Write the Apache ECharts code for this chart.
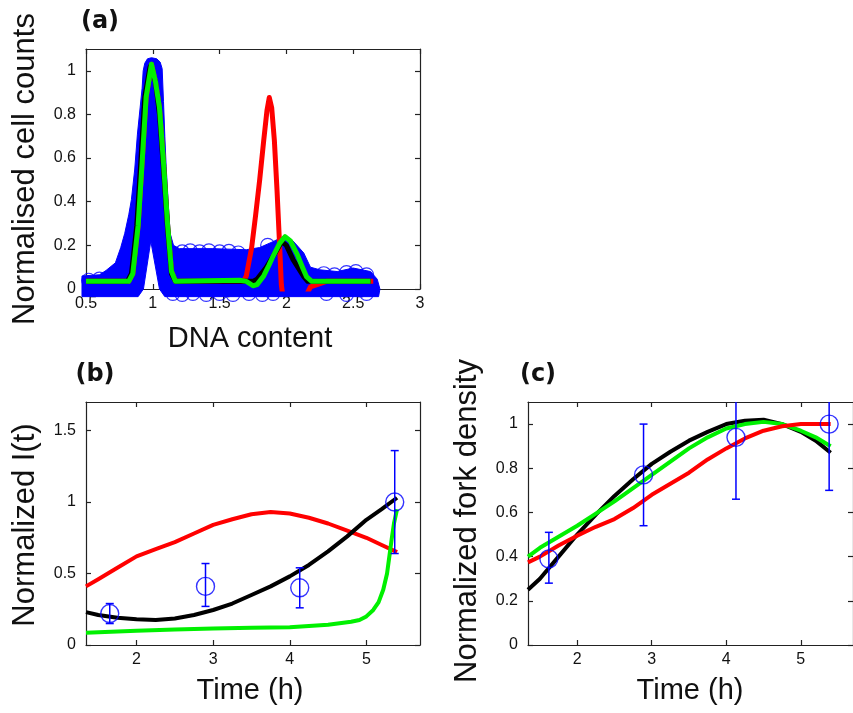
<!DOCTYPE html>
<html><head><meta charset="utf-8">
<script src="https://cdn.jsdelivr.net/npm/echarts@6/dist/echarts.min.js"></script>
<style>html,body{margin:0;padding:0;background:#fff}#c{width:853px;height:713px}</style>
</head><body><div id="c"></div><script>
// ---------- Panel (a): DNA content histograms ----------
var aXTicks = [0.5, 1, 1.5, 2, 2.5, 3];
var aYTicks = [0, 0.2, 0.4, 0.6, 0.8, 1];
// outline of the dense blue data cloud (upper edge, then lower edge)
var blobTop = [[0.47,0.06],[0.6,0.065],[0.65,0.085],[0.72,0.12],[0.76,0.19],[0.79,0.255],[0.82,0.34],[0.84,0.41],[0.865,0.55],[0.885,0.71],[0.905,0.83],[0.92,0.92],[0.928,1.0],[0.94,1.035],[0.96,1.055],[0.99,1.06],[1.03,1.055],[1.055,1.04],[1.07,1.01],[1.08,0.86],[1.09,0.7],[1.10,0.56],[1.115,0.4],[1.13,0.255],[1.155,0.2],[1.2,0.185],[1.45,0.185],[1.7,0.18],[1.8,0.19],[1.9,0.217],[1.975,0.24],[2.05,0.22],[2.13,0.165],[2.18,0.1],[2.25,0.088],[2.38,0.08],[2.5,0.096],[2.63,0.08],[2.68,0.045],[2.7,0.0],[2.69,-0.035]];
var blobBottom = [[2.69,-0.035],[1.09,-0.035],[1.05,0.0],[0.985,0.22],[0.93,0.0],[0.89,-0.035],[0.47,-0.035]];
var ringX = [0.52,0.6,1.22,1.28,1.35,1.42,1.5,1.57,1.64,1.86,2.28,2.36,2.45,2.52,2.6,1.15,1.22,1.3,1.4,1.5,1.6,1.72,1.82,1.9,2.3,2.45,2.6];
var ringY = [0.04,0.045,0.17,0.175,0.17,0.175,0.17,0.172,0.165,0.2,0.07,0.065,0.075,0.08,0.065,-0.02,-0.025,-0.02,-0.025,-0.02,-0.025,-0.02,-0.025,-0.02,-0.02,-0.025,-0.02];
var redAX = [0.5,0.82,0.85,0.89,0.92,0.95,0.99,1.02,1.05,1.08,1.11,1.14,1.17,1.68,1.70,1.74,1.77,1.80,1.83,1.855,1.872,1.89,1.91,1.93,1.95,1.962,1.975,2.14,2.18,2.23,2.3,2.65];
var redAY = [0.035,0.035,0.07,0.29,0.58,0.88,1.03,0.95,0.83,0.58,0.3,0.08,0.035,0.035,0.06,0.19,0.34,0.5,0.68,0.82,0.878,0.83,0.68,0.45,0.19,0.02,-0.04,-0.04,0.01,0.02,0.035,0.035];
var blackAX = [0.5,0.81,0.84,0.88,0.91,0.94,0.98,1.02,1.05,1.08,1.11,1.14,1.17,1.70,1.75,1.78,1.85,1.92,1.965,2.0,2.05,2.13,2.16,2.63];
var blackAY = [0.035,0.035,0.07,0.29,0.58,0.88,1.02,0.95,0.8,0.55,0.28,0.07,0.035,0.035,0.035,0.045,0.1,0.17,0.217,0.2,0.134,0.057,0.035,0.035];
var greenAX = [0.5,0.82,0.85,0.89,0.92,0.95,0.99,1.02,1.05,1.08,1.11,1.14,1.17,1.65,1.70,1.75,1.78,1.83,1.87,1.90,1.95,1.99,2.03,2.08,2.12,2.15,2.19,2.63];
var greenAY = [0.035,0.035,0.07,0.29,0.58,0.88,1.03,0.95,0.83,0.58,0.3,0.08,0.035,0.04,0.035,0.015,0.02,0.06,0.11,0.15,0.21,0.24,0.22,0.16,0.1,0.057,0.035,0.035];

// ---------- Panel (b): Normalized I(t) ----------
var bcXTicks = [2, 3, 4, 5];
var bYTicks = [0, 0.5, 1, 1.5];
var bPtX = [1.65, 2.9, 4.13, 5.37];
var bPtY = [0.22, 0.41, 0.40, 1.0];
var bPtLo = [0.15, 0.27, 0.26, 0.64];
var bPtHi = [0.29, 0.57, 0.54, 1.36];
var redBX = [1.34,1.5,1.75,2.0,2.25,2.5,2.75,3.0,3.25,3.5,3.75,4.0,4.25,4.5,4.75,5.0,5.2,5.4];
var redBY = [0.41,0.46,0.54,0.62,0.67,0.72,0.78,0.84,0.88,0.915,0.93,0.92,0.89,0.85,0.80,0.75,0.70,0.65];
var blackBX = [1.34,1.5,1.75,2.0,2.25,2.5,2.75,3.0,3.25,3.5,3.75,4.0,4.25,4.5,4.75,5.0,5.2,5.4];
var blackBY = [0.23,0.21,0.19,0.18,0.175,0.185,0.21,0.245,0.29,0.35,0.41,0.48,0.56,0.655,0.76,0.876,0.95,1.03];
var greenBX = [1.34,2.0,2.5,3.0,3.5,4.0,4.5,4.65,4.8,4.91,5.0,5.09,5.16,5.22,5.27,5.30,5.33,5.36,5.4];
var greenBY = [0.085,0.1,0.108,0.115,0.12,0.125,0.142,0.152,0.163,0.175,0.2,0.245,0.3,0.386,0.5,0.62,0.74,0.85,0.95];

// ---------- Panel (c): Normalized fork density ----------
var cYTicks = [0, 0.2, 0.4, 0.6, 0.8, 1];
var cPtX = [1.62, 2.89, 4.13, 5.38];
var cPtY = [0.39, 0.77, 0.94, 1.0];
var cPtLo = [0.28, 0.54, 0.66, 0.70];
var cPtHi = [0.51, 1.0, 1.22, 1.30];
var cLineX = [1.34,1.5,1.75,2.0,2.25,2.5,2.75,3.0,3.25,3.5,3.75,4.0,4.25,4.5,4.75,5.0,5.2,5.4];
var redCY = [0.374,0.40,0.45,0.495,0.535,0.57,0.62,0.68,0.73,0.78,0.84,0.89,0.935,0.97,0.99,1.0,1.0,1.0];
var blackCY = [0.25,0.30,0.40,0.50,0.59,0.675,0.75,0.82,0.875,0.925,0.965,1.0,1.015,1.02,1.0,0.965,0.925,0.87];
var greenCY = [0.40,0.44,0.49,0.54,0.595,0.65,0.71,0.77,0.83,0.89,0.94,0.98,1.0,1.01,1.0,0.97,0.94,0.90];

var RED = '#ff0000', GREEN = '#00f000', BLACK = '#000000', BLUE = '#0000ff';
var LBL = '"Liberation Sans", Arial, sans-serif';

function zip(xs, ys) { return xs.map(function (v, i) { return [v, ys[i]]; }); }

function xAx(g, min, max, ticks, pos, labels) {
  return {
    type: 'value', gridIndex: g, min: min, max: max, position: pos,
    axisLine: { show: true, onZero: false, lineStyle: { color: '#222', width: 1.2 } },
    axisTick: { show: true, inside: true, length: 5, customValues: ticks, lineStyle: { color: '#222', width: 1.2 } },
    axisLabel: { show: labels, customValues: ticks, margin: 7, color: '#111', fontSize: 16, fontFamily: LBL },
    splitLine: { show: false }
  };
}
function yAx(g, min, max, ticks, pos, labels) {
  return {
    type: 'value', gridIndex: g, min: min, max: max, position: pos,
    axisLine: { show: true, onZero: false, lineStyle: { color: '#222', width: 1.2 } },
    axisTick: { show: true, inside: true, length: 5, customValues: ticks, lineStyle: { color: '#222', width: 1.2 } },
    axisLabel: { show: labels, customValues: ticks, margin: 10, color: '#111', fontSize: 16, fontFamily: LBL },
    splitLine: { show: false }
  };
}
function lineS(xi, yi, xs, ys, color, w) {
  return { type: 'line', xAxisIndex: xi, yAxisIndex: yi, data: zip(xs, ys), showSymbol: false, symbol: 'none',
    smooth: false, clip: true, lineStyle: { color: color, width: w, join: 'round', cap: 'butt' }, itemStyle: { color: color }, animation: false, z: 3 };
}
function errS(xi, yi, xs, lo, hi) {
  return { type: 'custom', xAxisIndex: xi, yAxisIndex: yi, clip: true, z: 5,
    data: xs.map(function (v, i) { return [v, lo[i], hi[i]]; }),
    encode: { x: 0, y: [1, 2] },
    renderItem: function (p, api) {
      var x = api.value(0);
      var t = api.coord([x, api.value(2)]), b = api.coord([x, api.value(1)]);
      var st = { stroke: BLUE, lineWidth: 1.5 };
      return { type: 'group', children: [
        { type: 'line', shape: { x1: t[0], y1: t[1], x2: b[0], y2: b[1] }, style: st },
        { type: 'line', shape: { x1: t[0] - 4, y1: t[1], x2: t[0] + 4, y2: t[1] }, style: st },
        { type: 'line', shape: { x1: b[0] - 4, y1: b[1], x2: b[0] + 4, y2: b[1] }, style: st }
      ] };
    }, animation: false };
}
function ptS(xi, yi, xs, ys) {
  return { type: 'scatter', xAxisIndex: xi, yAxisIndex: yi, data: zip(xs, ys), symbol: 'circle', symbolSize: 18,
    itemStyle: { color: 'rgba(0,0,0,0)', borderColor: BLUE, borderWidth: 1.4 }, z: 6, animation: false };
}
function txt(x, y, s, font, rot) {
  return { type: 'text', x: x, y: y, rotation: rot || 0, z: 10,
    style: { text: s, font: font, fill: '#111', textAlign: 'center', textVerticalAlign: 'middle', align: 'center', verticalAlign: 'middle' } };
}

var chart = echarts.init(document.getElementById('c'), null, { renderer: 'canvas', width: 853, height: 713 });
var option = {
  backgroundColor: '#ffffff',
  animation: false,
  grid: [
    { left: 86, top: 49, width: 334, height: 240 },
    { left: 86, top: 402, width: 334, height: 243 },
    { left: 528, top: 402, width: 332, height: 243 }
  ],
  xAxis: [
    xAx(0, 0.5, 3, aXTicks, 'bottom', true),
    xAx(0, 0.5, 3, aXTicks, 'top', false),
    xAx(1, 1.34, 5.7, bcXTicks, 'bottom', true),
    xAx(1, 1.34, 5.7, bcXTicks, 'top', false),
    xAx(2, 1.34, 5.7, bcXTicks, 'bottom', true),
    xAx(2, 1.34, 5.7, bcXTicks, 'top', false)
  ],
  yAxis: [
    yAx(0, 0, 1.1, aYTicks, 'left', true),
    yAx(0, 0, 1.1, aYTicks, 'right', false),
    yAx(1, 0, 1.7, bYTicks, 'left', true),
    yAx(1, 0, 1.7, bYTicks, 'right', false),
    yAx(2, 0, 1.1, cYTicks, 'left', true),
    yAx(2, 0, 1.1, cYTicks, 'right', false)
  ],
  series: [
    { type: 'custom', xAxisIndex: 0, yAxisIndex: 0, clip: false, z: 1, data: [[0.5, 0]], animation: false,
      renderItem: function (p, api) {
        var pts = blobTop.concat(blobBottom).map(function (q) { return api.coord(q); });
        return { type: 'polygon', shape: { points: pts }, style: { fill: BLUE, stroke: BLUE, lineWidth: 1 } };
      } },
    { type: 'scatter', xAxisIndex: 0, yAxisIndex: 0, clip: false, z: 2, data: zip(ringX, ringY), symbol: 'circle', symbolSize: 14,
      itemStyle: { color: 'rgba(0,0,0,0)', borderColor: BLUE, borderWidth: 1.2 }, animation: false },
    lineS(0, 0, redAX, redAY, RED, 5),
    lineS(0, 0, blackAX, blackAY, BLACK, 5),
    lineS(0, 0, greenAX, greenAY, GREEN, 5),

    lineS(2, 2, redBX, redBY, RED, 4),
    lineS(2, 2, greenBX, greenBY, GREEN, 4),
    lineS(2, 2, blackBX, blackBY, BLACK, 4),
    errS(2, 2, bPtX, bPtLo, bPtHi),
    ptS(2, 2, bPtX, bPtY),

    lineS(4, 4, cLineX, blackCY, BLACK, 4),
    lineS(4, 4, cLineX, greenCY, GREEN, 4),
    lineS(4, 4, cLineX, redCY, RED, 4),
    errS(4, 4, cPtX, cPtLo, cPtHi),
    ptS(4, 4, cPtX, cPtY)
  ],
  graphic: [
    txt(100, 22, '(a)', 'bold 24px "DejaVu Sans", sans-serif'),
    txt(95, 375, '(b)', 'bold 24px "DejaVu Sans", sans-serif'),
    txt(538, 375, '(c)', 'bold 24px "DejaVu Sans", sans-serif'),
    txt(25, 169, 'Normalised cell counts', '31px ' + LBL, Math.PI / 2),
    txt(250, 339, 'DNA content', '29px ' + LBL),
    txt(25, 525, 'Normalized I(t)', '31px ' + LBL, Math.PI / 2),
    txt(250, 691, 'Time (h)', '29px ' + LBL),
    txt(467, 521, 'Normalized fork density', '31px ' + LBL, Math.PI / 2),
    txt(690, 691, 'Time (h)', '29px ' + LBL)
  ]
};
chart.setOption(option);
</script></body></html>
